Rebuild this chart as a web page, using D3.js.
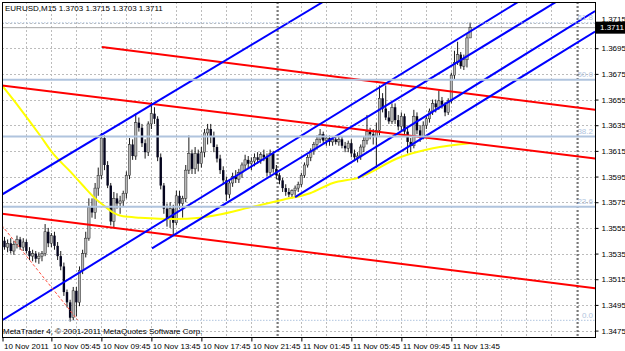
<!DOCTYPE html>
<html>
<head>
<meta charset="utf-8">
<script src="https://cdn.jsdelivr.net/npm/d3@7"></script>
<style>
  body { margin: 0; background: #fff; }
  svg { display: block; font-family: "Liberation Sans", Arial, sans-serif; }
</style>
</head>
<body>
<svg id="chart" width="625" height="351"></svg>
<script>
// EURUSD M15, bars counted from 10 Nov 2011 02:00
const title = 'EURUSD,M15  1.3703 1.3715 1.3703 1.3711';
const copyright = 'MetaTrader 4, \u00a9 2001-2011 MetaQuotes Software Corp.';

const opens = [
  1.3545,1.3540,1.3543,1.3537,1.3542,1.3546,1.3540,1.3544,1.3537,1.3533,
  1.3535,1.3531,1.3533,1.3535,1.3552,1.3543,1.3549,1.3541,1.3533,1.3525,
  1.3505,1.3497,1.3485,1.3506,1.3497,1.3522,1.3535,1.3547,1.3571,1.3567,
  1.3586,1.3596,1.3625,1.3604,1.3588,1.3560,1.3578,1.3574,1.3576,1.3582,
  1.3596,1.3620,1.3611,1.3637,1.3633,1.3621,1.3614,1.3636,1.3644,1.3640,
  1.3610,1.3588,1.3570,1.3562,1.3570,1.3559,1.3580,1.3574,1.3578,1.3600,
  1.3613,1.3601,1.3613,1.3605,1.3614,1.3629,1.3632,1.3626,1.3618,1.3609,
  1.3600,1.3592,1.3581,1.3590,1.3595,1.3593,1.3598,1.3604,1.3608,1.3605,
  1.3607,1.3610,1.3608,1.3612,1.3610,1.3598,1.3613,1.3601,1.3596,1.3592,
  1.3586,1.3583,1.3581,1.3584,1.3586,1.3589,1.3596,1.3604,1.3610,1.3615,
  1.3620,1.3624,1.3628,1.3623,1.3625,1.3622,1.3624,1.3622,1.3624,1.3619,
  1.3617,1.3621,1.3613,1.3610,1.3611,1.3618,1.3623,1.3630,1.3628,1.3626,
  1.3631,1.3656,1.3648,1.3641,1.3638,1.3649,1.3639,1.3634,1.3642,1.3630,
  1.3622,1.3619,1.3642,1.3631,1.3626,1.3635,1.3640,1.3646,1.3652,1.3649,
  1.3654,1.3651,1.3645,1.3654,1.3674,1.3684,1.3690,1.3681,1.3686,1.3703
];
const highs = [
  1.3548,1.3546,1.3547,1.3545,1.3549,1.3548,1.3547,1.3546,1.3540,1.3538,
  1.3537,1.3536,1.3537,1.3558,1.3555,1.3551,1.3552,1.3544,1.3537,1.3528,
  1.3507,1.3499,1.3509,1.3509,1.3525,1.3538,1.3552,1.3578,1.3578,1.3590,
  1.3602,1.3629,1.3627,1.3607,1.3590,1.3583,1.3582,1.3580,1.3584,1.3599,
  1.3625,1.3624,1.3644,1.3641,1.3636,1.3624,1.3638,1.3653,1.3649,1.3642,
  1.3613,1.3590,1.3574,1.3575,1.3573,1.3584,1.3584,1.3580,1.3604,1.3627,
  1.3616,1.3618,1.3616,1.3618,1.3632,1.3636,1.3636,1.3630,1.3620,1.3612,
  1.3603,1.3595,1.3592,1.3598,1.3600,1.3601,1.3606,1.3612,1.3611,1.3610,
  1.3613,1.3614,1.3614,1.3616,1.3613,1.3616,1.3615,1.3604,1.3598,1.3594,
  1.3589,1.3586,1.3585,1.3588,1.3591,1.3598,1.3606,1.3612,1.3617,1.3622,
  1.3627,1.3632,1.3630,1.3627,1.3627,1.3626,1.3627,1.3626,1.3626,1.3622,
  1.3623,1.3624,1.3616,1.3614,1.3620,1.3626,1.3643,1.3633,1.3632,1.3637,
  1.3666,1.3660,1.3666,1.3646,1.3652,1.3652,1.3643,1.3645,1.3644,1.3633,
  1.3625,1.3647,1.3645,1.3635,1.3638,1.3642,1.3648,1.3655,1.3655,1.3662,
  1.3657,1.3653,1.3656,1.3676,1.3693,1.3700,1.3692,1.3690,1.3706,1.3715
];
const lows = [
  1.3538,1.3536,1.3535,1.3534,1.3539,1.3538,1.3537,1.3535,1.3530,1.3529,
  1.3528,1.3527,1.3529,1.3533,1.3540,1.3540,1.3538,1.3530,1.3522,1.3502,
  1.3493,1.3482,1.3483,1.3486,1.3494,1.3519,1.3532,1.3545,1.3563,1.3562,
  1.3580,1.3593,1.3600,1.3586,1.3557,1.3555,1.3570,1.3566,1.3572,1.3578,
  1.3593,1.3608,1.3608,1.3630,1.3618,1.3609,1.3611,1.3632,1.3636,1.3607,
  1.3585,1.3566,1.3556,1.3555,1.3549,1.3557,1.3570,1.3563,1.3575,1.3597,
  1.3597,1.3597,1.3599,1.3602,1.3610,1.3620,1.3621,1.3614,1.3606,1.3597,
  1.3589,1.3576,1.3578,1.3587,1.3590,1.3590,1.3594,1.3600,1.3601,1.3600,
  1.3603,1.3605,1.3605,1.3607,1.3595,1.3596,1.3598,1.3593,1.3589,1.3583,
  1.3580,1.3579,1.3578,1.3580,1.3583,1.3587,1.3594,1.3602,1.3607,1.3612,
  1.3616,1.3621,1.3621,1.3619,1.3619,1.3619,1.3620,1.3619,1.3617,1.3614,
  1.3614,1.3610,1.3607,1.3606,1.3608,1.3614,1.3620,1.3624,1.3620,1.3602,
  1.3627,1.3645,1.3639,1.3636,1.3636,1.3636,1.3631,1.3631,1.3628,1.3613,
  1.3614,1.3617,1.3628,1.3622,1.3624,1.3632,1.3637,1.3643,1.3645,1.3647,
  1.3648,1.3642,1.3643,1.3652,1.3671,1.3682,1.3679,1.3678,1.3680,1.3703
];
const closes = [
  1.3540,1.3543,1.3537,1.3542,1.3546,1.3540,1.3544,1.3537,1.3533,1.3535,
  1.3531,1.3533,1.3535,1.3552,1.3543,1.3549,1.3541,1.3533,1.3525,1.3505,
  1.3497,1.3485,1.3506,1.3497,1.3522,1.3535,1.3547,1.3571,1.3567,1.3586,
  1.3596,1.3625,1.3604,1.3588,1.3560,1.3578,1.3574,1.3576,1.3582,1.3596,
  1.3620,1.3611,1.3637,1.3633,1.3621,1.3614,1.3636,1.3644,1.3640,1.3610,
  1.3588,1.3570,1.3562,1.3570,1.3559,1.3580,1.3574,1.3578,1.3600,1.3613,
  1.3601,1.3613,1.3605,1.3614,1.3629,1.3632,1.3626,1.3618,1.3609,1.3600,
  1.3592,1.3581,1.3590,1.3595,1.3593,1.3598,1.3604,1.3608,1.3605,1.3607,
  1.3610,1.3608,1.3612,1.3610,1.3598,1.3613,1.3601,1.3596,1.3592,1.3586,
  1.3583,1.3581,1.3584,1.3586,1.3589,1.3596,1.3604,1.3610,1.3615,1.3620,
  1.3624,1.3628,1.3623,1.3625,1.3622,1.3624,1.3622,1.3624,1.3619,1.3617,
  1.3621,1.3613,1.3610,1.3611,1.3618,1.3623,1.3630,1.3628,1.3626,1.3631,
  1.3656,1.3648,1.3641,1.3638,1.3649,1.3639,1.3634,1.3642,1.3630,1.3622,
  1.3619,1.3642,1.3631,1.3626,1.3635,1.3640,1.3646,1.3652,1.3649,1.3654,
  1.3651,1.3645,1.3654,1.3674,1.3684,1.3690,1.3681,1.3686,1.3703,1.3711
];
const bid = 1.3711;

// moving average: [bar, price]
const maPoints = [
  [-0.8,1.3666],[5.0,1.3648],[11.4,1.3627],[15.5,1.3613],[21.0,1.3599],
  [25.1,1.3588],[29.0,1.3578],[31.5,1.3573],[34.7,1.3567],[37.9,1.3564],
  [43.4,1.3563],[54.6,1.3562],[62.6,1.3563],[68.0,1.3565],[78.6,1.3571],
  [89.1,1.3577],[97.8,1.3582],[105.1,1.3590],[113.1,1.3594],[126.6,1.3610],
  [137.1,1.3617],[148.9,1.3621]
];

// drawn objects: [[bar, price], [bar, price]]
const redLines = [
  [[31.2,1.3696],[189.0,1.3647]],
  [[-0.8,1.3666],[189.0,1.3609]],
  [[-0.8,1.3566],[189.0,1.3508]]
];
const blueLines = [
  [[-0.8,1.3581],[101.9,1.3731]],
  [[-0.8,1.3483],[165.0,1.3732]],
  [[47.2,1.3539],[177.8,1.3733]],
  [[93.0,1.3579],[189.0,1.3724]],
  [[113.1,1.3594],[189.0,1.3708]]
];
const fibFrom = [-100, 1.3858];
const fibTo = [23.5, 1.3483];
const fibLevels = [0.0, 23.6, 38.2, 50.0, 61.8];

const priceTicks = [1.3475,1.3495,1.3515,1.3535,1.3555,1.3575,1.3595,
  1.3615,1.3635,1.3655,1.3675,1.3695,1.3715];
const timeLabels = ['10 Nov 2011','10 Nov 05:45','10 Nov 09:45','10 Nov 13:45',
  '10 Nov 17:45','10 Nov 21:45','11 Nov 01:45','11 Nov 05:45','11 Nov 09:45','11 Nov 13:45'];
const timeLabelBars = [-1, 15, 31, 47, 63, 79, 95, 111, 127, 143];
const separatorBars = [88, 184];

const W = 625, H = 351;
const plot = { left: 2, right: 595, top: 2, bottom: 337 };
const fontSize = '8px';

const svg = d3.select('#chart');
const x = d3.scaleLinear().domain([0, 149]).range([4.5, 470.1]);
const y = d3.scaleLinear().domain([1.3470, 1.3731]).range([plot.bottom, plot.top]);
const step = x(1) - x(0);

svg.append('defs').append('clipPath').attr('id', 'plotclip')
  .append('rect')
  .attr('x', plot.left).attr('y', plot.top)
  .attr('width', plot.right - plot.left).attr('height', plot.bottom - plot.top);

const body = svg.append('g').attr('clip-path', 'url(#plotclip)');

// grid
const gridBars = d3.range(-1, 190, 8);
body.append('g').selectAll('line').data(gridBars).join('line')
  .attr('x1', d => Math.round(x(d)) + 0.5).attr('x2', d => Math.round(x(d)) + 0.5)
  .attr('y1', plot.top).attr('y2', plot.bottom)
  .attr('stroke', '#bcbcbc').attr('stroke-dasharray', '2,2');
body.append('g').selectAll('line').data(priceTicks).join('line')
  .attr('x1', plot.left).attr('x2', plot.right)
  .attr('y1', d => Math.round(y(d)) + 0.5).attr('y2', d => Math.round(y(d)) + 0.5)
  .attr('stroke', '#bcbcbc').attr('stroke-dasharray', '2,2');

// period separators
body.append('g').selectAll('line').data(separatorBars).join('line')
  .attr('x1', d => x(d) - step / 2).attr('x2', d => x(d) - step / 2)
  .attr('y1', plot.top).attr('y2', plot.bottom)
  .attr('stroke', '#000').attr('stroke-width', 0.9).attr('stroke-dasharray', '2,2');

// bid line
body.append('line')
  .attr('x1', plot.left).attr('x2', plot.right)
  .attr('y1', y(bid)).attr('y2', y(bid))
  .attr('stroke', '#a8a8a8').attr('stroke-width', 1);

// candles
const bars = closes.map((c, i) => ({ i, o: opens[i], h: highs[i], l: lows[i], c }));
const candle = body.append('g').selectAll('g').data(bars).join('g');
candle.append('line')
  .attr('x1', d => x(d.i)).attr('x2', d => x(d.i))
  .attr('y1', d => y(d.h)).attr('y2', d => y(d.l))
  .attr('stroke', '#000').attr('stroke-width', 0.9);
candle.append('rect')
  .attr('x', d => x(d.i) - 1.2).attr('width', 2.4)
  .attr('y', d => y(Math.max(d.o, d.c)))
  .attr('height', d => Math.max(0.8, Math.abs(y(d.o) - y(d.c))))
  .attr('fill', d => d.c >= d.o ? '#b8b8b8' : '#05051e')
  .attr('stroke', d => d.c >= d.o ? '#222' : 'none')
  .attr('stroke-width', 0.5);

// moving average
body.append('path').datum(maPoints)
  .attr('fill', 'none').attr('stroke', '#ffff00').attr('stroke-width', 2)
  .attr('d', d3.line().x(d => x(d[0])).y(d => y(d[1])).curve(d3.curveMonotoneX));

// trend lines
function drawLines(lines, color) {
  body.append('g').selectAll('line').data(lines).join('line')
    .attr('x1', d => x(d[0][0])).attr('y1', d => y(d[0][1]))
    .attr('x2', d => x(d[1][0])).attr('y2', d => y(d[1][1]))
    .attr('stroke', color).attr('stroke-width', 2);
}
drawLines(redLines, '#ff0000');
drawLines(blueLines, '#0000ff');

// fibonacci retracement
body.append('line')
  .attr('x1', x(fibFrom[0])).attr('y1', y(fibFrom[1]))
  .attr('x2', x(fibTo[0])).attr('y2', y(fibTo[1]))
  .attr('stroke', '#ff5040').attr('stroke-width', 1).attr('stroke-dasharray', '3,2');
const fibPrice = lv => fibTo[1] + (fibFrom[1] - fibTo[1]) * lv / 100;
const fib = body.append('g').selectAll('g').data(fibLevels).join('g');
fib.append('line')
  .attr('x1', plot.left).attr('x2', plot.right)
  .attr('y1', d => y(fibPrice(d))).attr('y2', d => y(fibPrice(d)))
  .attr('stroke', '#b0c4de')
  .attr('stroke-width', d => (d === 0 || d === 61.8) ? 1 : 2)
  .attr('stroke-dasharray', d => (d === 0 || d === 61.8) ? '1.5,1.5' : null);
fib.append('text')
  .attr('x', plot.right - 2).attr('y', d => y(fibPrice(d)) - 2.5)
  .attr('text-anchor', 'end').attr('font-size', fontSize).attr('fill', '#b0c4de')
  .text(d => d.toFixed(1));

// frame
svg.append('rect')
  .attr('x', plot.left + 0.5).attr('y', plot.top + 0.5)
  .attr('width', plot.right - plot.left).attr('height', plot.bottom - plot.top)
  .attr('fill', 'none').attr('stroke', '#000');

// price axis
const yAxis = svg.append('g')
  .attr('transform', `translate(${plot.right + 0.5},0)`)
  .call(d3.axisRight(y).tickValues(priceTicks).tickSize(3).tickPadding(3)
    .tickFormat(d3.format('.4f')));
yAxis.select('.domain').remove();
yAxis.selectAll('text').attr('font-size', fontSize).attr('font-family', null).attr('fill', '#000')
  .filter(d => Math.abs(y(d) - y(bid)) < 8).attr('y', -4);

// bid marker
const bidG = svg.append('g');
bidG.append('rect')
  .attr('x', plot.right + 1).attr('y', y(bid) - 6)
  .attr('width', W - plot.right - 1).attr('height', 12).attr('fill', '#000');
bidG.append('text')
  .attr('x', plot.right + 5).attr('y', y(bid)).attr('dy', '0.35em')
  .attr('font-size', fontSize).attr('fill', '#fff').text(d3.format('.4f')(bid));

// time axis
const xAxis = svg.append('g')
  .attr('transform', `translate(0,${plot.bottom + 0.5})`)
  .call(d3.axisBottom(x).tickValues(timeLabelBars).tickSize(4).tickPadding(2)
    .tickFormat((d, i) => timeLabels[i]));
xAxis.select('.domain').remove();
xAxis.selectAll('.tick line').attr('transform', (d, i) => i === 0 ? `translate(${plot.left + 0.5 - x(d)},0)` : null);
xAxis.selectAll('text').attr('font-size', fontSize).attr('font-family', null).attr('fill', '#000')
  .attr('text-anchor', 'start')
  .attr('x', (d, i) => i === 0 ? plot.left + 1.5 - x(d) : 1);

// texts
svg.append('text').attr('x', 5).attr('y', 10.5)
  .attr('font-size', fontSize).attr('fill', '#000').text(title);
svg.append('text').attr('x', 3).attr('y', 333.5)
  .attr('font-size', fontSize).attr('fill', '#000').text(copyright);
</script>
</body>
</html>
